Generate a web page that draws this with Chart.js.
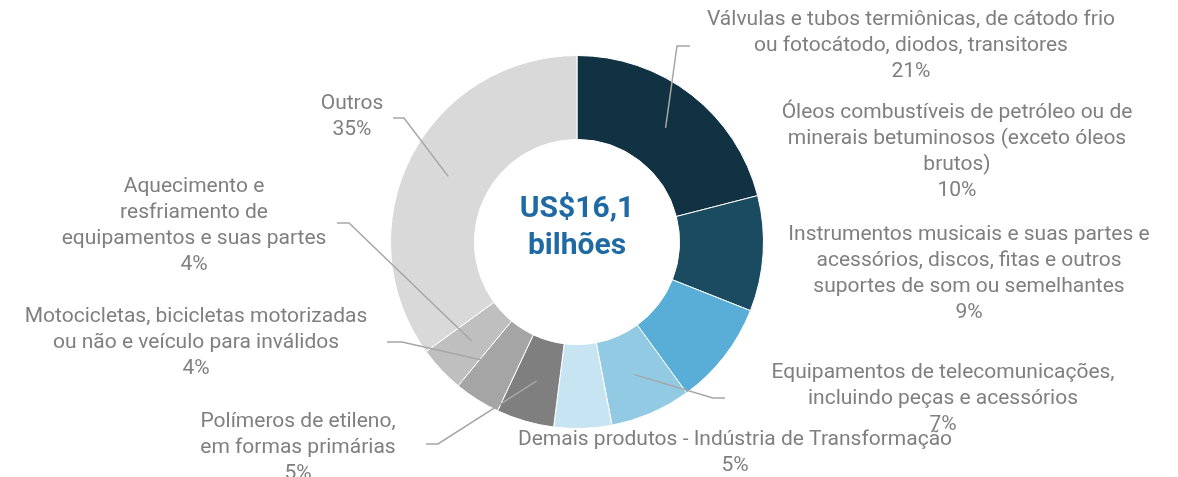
<!DOCTYPE html>
<html>
<head>
<meta charset="utf-8">
<script src="https://cdn.jsdelivr.net/npm/chart.js@4.4.1/dist/chart.umd.min.js"></script>
<style>
  html, body { margin: 0; padding: 0; background: #fff; }
  #wrap { width: 1178px; height: 477px; }
</style>
</head>
<body>
<div id="wrap"><canvas id="grafico"></canvas></div>
<script>
// categorias (quebradas em linhas como no original)
const categorias = [
  ['Válvulas e tubos termiônicas, de cátodo frio', 'ou fotocátodo, diodos, transitores'],
  ['Óleos combustíveis de petróleo ou de', 'minerais betuminosos (exceto óleos', 'brutos)'],
  ['Instrumentos musicais e suas partes e', 'acessórios, discos, fitas e outros', 'suportes de som ou semelhantes'],
  ['Equipamentos de telecomunicações,', 'incluindo peças e acessórios'],
  ['Demais produtos - Indústria de Transformação'],
  ['Polímeros de etileno,', 'em formas primárias'],
  ['Motocicletas, bicicletas motorizadas', 'ou não e veículo para inválidos'],
  ['Aquecimento e', 'resfriamento de', 'equipamentos e suas partes'],
  ['Outros']
];
const participacao = [21, 10, 9, 7, 5, 5, 4, 4, 35];
const cores = ['#113242', '#1a4b60', '#58aed6', '#92cae4', '#c6e4f1', '#7f7f7f', '#a5a5a5', '#bfbfbf', '#d9d9d9'];
const totalTexto = ['US$16,1', 'bilhões'];

// posição dos rótulos em relação ao centro: [x, y da 1a linha, pontos da linha guia]
const posRotulos = [
  { x: 334, y: -222, guia: [[100, -196], [113, -196]] },
  { x: 380, y: -129 },
  { x: 392, y: -7 },
  { x: 366, y: 131, guia: [[136, 156], [148, 156]] },
  { x: 158, y: 198 },
  { x: -279, y: 180, guia: [[-139, 202], [-151, 202]] },
  { x: -381, y: 75, guia: [[-175, 100], [-190, 100]] },
  { x: -383, y: -55, guia: [[-228, -19], [-240, -19]] },
  { x: -225, y: -138, guia: [[-173, -124], [-184, -124]] }
];

const rotulosPlugin = {
  id: 'rotulos',
  afterDatasetsDraw(chart) {
    const ctx = chart.ctx;
    const arcos = chart.getDatasetMeta(0).data;
    const cx = arcos[0].x, cy = arcos[0].y;
    ctx.save();
    // linhas guia
    ctx.strokeStyle = '#a6a6a6';
    ctx.lineWidth = 1.5;
    arcos.forEach((arco, i) => {
      const p = posRotulos[i];
      if (!p.guia) return;
      const a = arco.getCenterPoint();
      ctx.beginPath();
      ctx.moveTo(a.x, a.y);
      p.guia.forEach(g => ctx.lineTo(cx + g[0], cy + g[1]));
      ctx.stroke();
    });
    // textos
    ctx.fillStyle = '#7f7f7f';
    ctx.font = '21px Roboto';
    ctx.textAlign = 'center';
    ctx.textBaseline = 'middle';
    categorias.forEach((linhas, i) => {
      const p = posRotulos[i];
      const todas = linhas.concat([participacao[i] + '%']);
      todas.forEach((t, k) => ctx.fillText(t, cx + p.x, cy + p.y + k * 26));
    });
    // total no centro
    ctx.fillStyle = '#1f6aa3';
    ctx.font = 'bold 30px Roboto';
    ctx.textBaseline = 'alphabetic';
    ctx.fillText(totalTexto[0], cx, cy - 25);
    ctx.fillText(totalTexto[1], cx, cy + 12);
    ctx.restore();
  }
};

new Chart(document.getElementById('grafico'), {
  type: 'doughnut',
  data: {
    labels: categorias,
    datasets: [{
      data: participacao,
      backgroundColor: cores,
      borderColor: '#ffffff',
      borderWidth: 1
    }]
  },
  options: {
    responsive: true,
    maintainAspectRatio: false,
    animation: false,
    cutout: '55%',
    layout: { padding: { top: 55, bottom: 48, left: 390, right: 414 } },
    plugins: {
      legend: { display: false },
      tooltip: { enabled: false }
    }
  },
  plugins: [rotulosPlugin]
});
</script>
</body>
</html>
